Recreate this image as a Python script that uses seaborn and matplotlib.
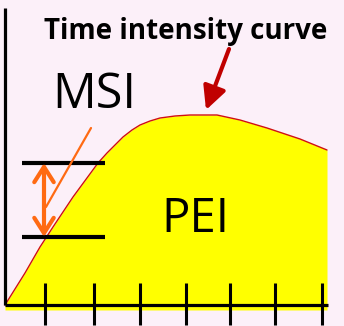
import numpy as np
import pandas as pd
import seaborn as sns
import matplotlib
matplotlib.use("Agg")
import matplotlib.pyplot as plt

# 时间-强度曲线上的读数 (从图上估计)
time = [0, 20, 35, 48, 68, 93, 102, 118, 127, 135, 145, 155, 170, 185, 200, 212, 235, 262, 295, 322]
intensity = [0, 32, 58, 78, 108, 142, 152, 168, 175, 180, 184, 187, 189, 190, 190, 190, 185, 177, 166, 155]

# 横轴刻度位置
tick_times = [40, 89, 135, 181, 225, 270, 317]

# MSI 的两条水平线
msi_low = 68
msi_high = 142
msi_time = 39

title_text = "Time intensity curve"
msi_text = "MSI"
pei_text = "PEI"

bg = "#FCF0F9"

sns.set_theme(style="white")
plt.rcParams['font.family'] = ['Open Sans', 'DejaVu Sans']

df = pd.DataFrame({"time": time, "intensity": intensity})

fig = plt.figure(figsize=(3.44, 3.26), dpi=100, facecolor=bg)
ax = fig.add_axes([0, 0, 1, 1])
ax.set_facecolor(bg)

# 曲线下的面积 (PEI)
ax.fill_between(df["time"], df["intensity"], -5, color="#FFFF00", lw=0, zorder=1)
sns.lineplot(data=df, x="time", y="intensity", color="#D01010", lw=1, ax=ax, zorder=2)

# 坐标轴线
ax.plot([0, 0], [0, 297], color="black", lw=2.3, solid_capstyle="butt", zorder=3)
ax.plot([0, 323], [0, 0], color="black", lw=2.3, solid_capstyle="butt", zorder=3)
for t in tick_times:
    ax.plot([t, t], [22, -20], color="black", lw=2.2, solid_capstyle="butt", zorder=3)

# MSI 水平线
for lvl in [msi_low, msi_high]:
    ax.plot([17, 100], [lvl, lvl], color="black", lw=3, solid_capstyle="butt", zorder=3)

# 双向箭头
ax.annotate("", xy=(msi_time, msi_low), xytext=(msi_time, msi_high),
            arrowprops=dict(arrowstyle="<->,head_length=0.55,head_width=0.35",
                            color="#FF6A13", lw=3, mutation_scale=20,
                            shrinkA=0, shrinkB=0), zorder=4)
# MSI 指示线
ax.plot([86, 41], [177, 98], color="#FF6A13", lw=1.6, zorder=4)

# 指向曲线的箭头
ax.annotate("", xy=(201, 195), xytext=(224, 256),
            arrowprops=dict(arrowstyle="-|>,head_length=0.7,head_width=0.35",
                            color="#C00000", lw=3, mutation_scale=20,
                            shrinkA=0, shrinkB=0), zorder=4)

ax.text(181, 266, title_text, fontsize=20, fontweight="bold",
        ha="center", va="baseline", color="black", zorder=5)
ax.text(89, 197, msi_text, fontsize=35, ha="center", va="baseline", color="black", zorder=5)
ax.text(190, 73, pei_text, fontsize=34, ha="center", va="baseline", color="black", zorder=5)

ax.set_xlim(-5, 339)
ax.set_ylim(-21, 305)
ax.axis("off")

fig.savefig("out.png", dpi=100, facecolor=bg)
